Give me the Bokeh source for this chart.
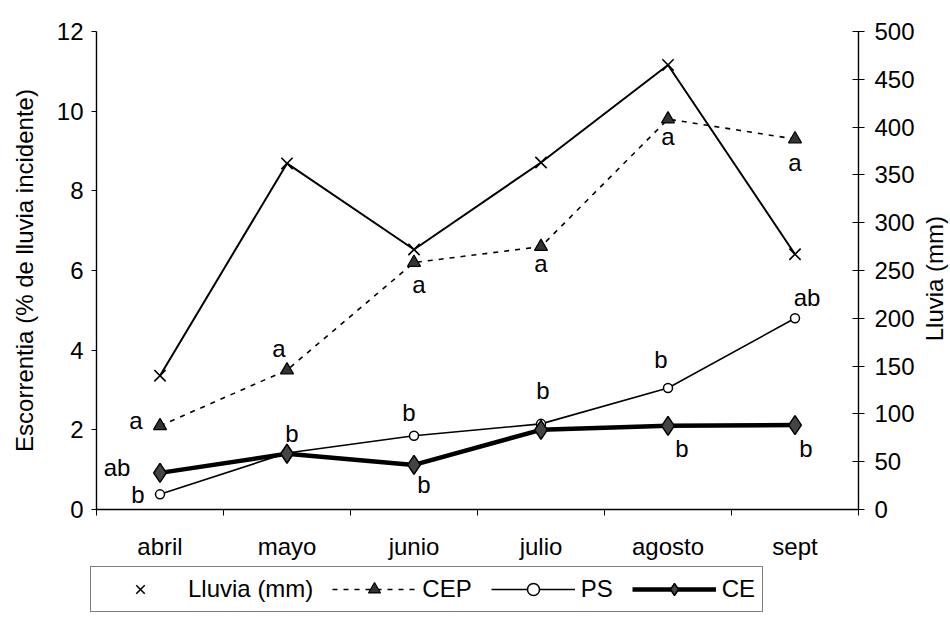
import math

from bokeh.core.properties import value
from bokeh.embed import file_html
from bokeh.layouts import column, row
from bokeh.models import (ColumnDataSource, FixedTicker, Label, Legend,
                          LegendItem, LinearAxis, Range1d)
from bokeh.plotting import figure
from bokeh.resources import INLINE

# ---- data -------------------------------------------------------------
months = ["abril", "mayo", "junio", "julio", "agosto", "sept"]
lluvia_mm = [140, 362, 272, 363, 465, 267]          # right axis (mm)
cep = [2.1, 3.5, 6.2, 6.6, 9.8, 9.3]                # % de lluvia incidente
ps = [0.38, 1.42, 1.85, 2.15, 3.05, 4.8]
ce = [0.92, 1.40, 1.12, 2.0, 2.1, 2.12]

cep_letters = ["a", "a", "a", "a", "a", "a"]
ps_letters = ["b", "b", "b", "b", "b", "ab"]
ce_letters = ["ab", "", "b", "", "b", "b"]

esc_ticks = [0, 2, 4, 6, 8, 10, 12]
lluvia_ticks = [0, 50, 100, 150, 200, 250, 300, 350, 400, 450, 500]

# ---- styling ----------------------------------------------------------
FONT = "Liberation Sans"
FS = "24px"
xpos = [i + 0.5 for i in range(len(months))]
bounds = list(range(len(months) + 1))

# series styles, shared by the chart and the legend strip
STYLE = {
    "lluvia_line": dict(line_color="black", line_width=2),
    "lluvia_pts": dict(marker="x", size=16, line_color="black", line_width=1.6),
    "cep_line": dict(line_color="black", line_width=1.6, line_dash="5 6"),
    "cep_pts": dict(marker="triangle", size=13, fill_color="#333333",
                    line_color="black", line_width=1.2),
    "ps_line": dict(line_color="black", line_width=1.6),
    "ps_pts": dict(marker="circle", size=9, fill_color="white",
                   line_color="black", line_width=1.5),
    "ce_line": dict(line_color="black", line_width=4.5),
    "ce_pts": dict(marker="diamond", size=19, fill_color="#444444",
                   line_color="black", line_width=1.5),
}

BORDER_TOP, BORDER_BOTTOM = 31, 56
MAIN_W, SIDE_W, TOP_H, LEG_H = 918, 32, 565, 55

p = figure(width=MAIN_W, height=TOP_H, output_backend="svg",
           toolbar_location=None,
           x_range=Range1d(0, len(months)), y_range=Range1d(0, 12),
           min_border_left=96, min_border_right=60,
           min_border_top=BORDER_TOP, min_border_bottom=BORDER_BOTTOM)
p.extra_y_ranges = {"lluvia": Range1d(0, 500)}
p.outline_line_color = None
p.grid.visible = False
p.background_fill_color = "white"
p.border_fill_color = "white"

# month axis: labels at category centres, small ticks at the boundaries
xa = p.xaxis[0]
xa.ticker = FixedTicker(ticks=xpos, minor_ticks=bounds)
xa.major_label_overrides = {x: m for x, m in zip(xpos, months)}
xa.major_tick_line_color = None
xa.major_tick_out = 0
xa.major_tick_in = 0
xa.minor_tick_out = 6
xa.minor_tick_in = 0
xa.minor_tick_line_color = "black"
xa.major_label_standoff = 17
xa.major_label_text_font = FONT
xa.major_label_text_font_size = FS
xa.major_label_text_color = "black"
xa.axis_line_color = "black"
xa.axis_line_width = 1.4

# left axis: runoff
ya = p.yaxis[0]
ya.ticker = FixedTicker(ticks=esc_ticks)
ya.axis_label = "Escorrentia (% de lluvia incidente)"
ya.axis_label_text_font = FONT
ya.axis_label_text_font_size = FS
ya.axis_label_text_font_style = "normal"
ya.axis_label_text_color = "black"
ya.axis_label_standoff = 16
ya.major_label_text_font = FONT
ya.major_label_text_font_size = FS
ya.major_label_text_color = "black"
ya.major_label_standoff = 8
ya.major_tick_out = 5
ya.major_tick_in = 0
ya.minor_tick_line_color = None
ya.axis_line_color = "black"
ya.axis_line_width = 1.4

# right axis: rainfall (its title sits in the narrow strip beside it)
ra = LinearAxis(y_range_name="lluvia", ticker=FixedTicker(ticks=lluvia_ticks))
ra.major_label_text_font = FONT
ra.major_label_text_font_size = FS
ra.major_label_text_color = "black"
ra.major_label_standoff = 10
ra.major_tick_out = 6
ra.major_tick_in = 6
ra.minor_tick_line_color = None
ra.axis_line_color = "black"
ra.axis_line_width = 1.4
p.add_layout(ra, "right")

# ---- series -------------------------------------------------------------
p.line(xpos, lluvia_mm, y_range_name="lluvia", **STYLE["lluvia_line"])
p.scatter(xpos, lluvia_mm, y_range_name="lluvia", **STYLE["lluvia_pts"])
p.line(xpos, cep, **STYLE["cep_line"])
p.scatter(xpos, cep, **STYLE["cep_pts"])
p.line(xpos, ps, **STYLE["ps_line"])
p.scatter(xpos, ps, **STYLE["ps_pts"])
p.line(xpos, ce, **STYLE["ce_line"])
p.scatter(xpos, ce, **STYLE["ce_pts"])

# ---- significance letters ---------------------------------------------
letter_offsets = {
    "cep": [(-24, -5), (-8, -22), (5, 22), (0, 17), (0, 17), (0, 23)],
    "ps": [(-22, 0), (5, -19), (-5, -23), (2, -33), (-7, -29), (12, -21)],
    "ce": [(-43, -5), (0, 0), (10, 20), (0, 0), (14, 23), (11, 23)],
}
for key, vals, letters in (("cep", cep, cep_letters),
                           ("ps", ps, ps_letters),
                           ("ce", ce, ce_letters)):
    offs = letter_offsets[key]
    src = ColumnDataSource(dict(x=xpos, y=vals, t=letters,
                                dx=[o[0] for o in offs],
                                dy=[o[1] for o in offs]))
    p.text(x="x", y="y", text="t", source=src, x_offset="dx", y_offset="dy",
           text_align="center", text_baseline="middle",
           text_font=value(FONT), text_font_size=value(FS),
           text_color="black")

# ---- right-hand title strip (reads bottom to top) ----------------------
side = figure(width=SIDE_W, height=TOP_H, output_backend="svg",
              toolbar_location=None,
              x_range=Range1d(0, 1), y_range=Range1d(0, 1),
              x_axis_type=None, y_axis_type=None,
              min_border_left=0, min_border_right=0,
              min_border_top=BORDER_TOP, min_border_bottom=BORDER_BOTTOM)
side.outline_line_color = None
side.grid.visible = False
side.background_fill_color = "white"
side.border_fill_color = "white"
side.add_layout(Label(x=0.5, y=0.483, angle=math.pi / 2, text="Lluvia (mm)",
                      text_align="center", text_baseline="middle",
                      text_font=FONT, text_font_size=FS, text_color="black"))

# ---- legend strip under the chart --------------------------------------
# The series are repeated here on a range that keeps them out of view, so
# the legend can draw their glyphs without showing the data twice.
leg = figure(width=MAIN_W + SIDE_W, height=LEG_H, output_backend="svg",
             toolbar_location=None,
             x_range=Range1d(100, 101), y_range=Range1d(100, 101),
             x_axis_type=None, y_axis_type=None,
             min_border_left=0, min_border_right=0, min_border_top=0,
             min_border_bottom=0)
leg.outline_line_color = None
leg.grid.visible = False
leg.background_fill_color = "white"
leg.border_fill_color = "white"

k_ll = leg.scatter(xpos, lluvia_mm, **STYLE["lluvia_pts"])
k_cep_l = leg.line(xpos, cep, **STYLE["cep_line"])
k_cep_p = leg.scatter(xpos, cep, **STYLE["cep_pts"])
k_ps_l = leg.line(xpos, ps, **STYLE["ps_line"])
k_ps_p = leg.scatter(xpos, ps, **STYLE["ps_pts"])
k_ce_l = leg.line(xpos, ce, **STYLE["ce_line"])
k_ce_p = leg.scatter(xpos, ce, **STYLE["ce_pts"])

legend = Legend(items=[
    LegendItem(label="Lluvia (mm)", renderers=[k_ll]),
    LegendItem(label="CEP", renderers=[k_cep_l, k_cep_p]),
    LegendItem(label="PS", renderers=[k_ps_l, k_ps_p]),
    LegendItem(label="CE", renderers=[k_ce_l, k_ce_p]),
], orientation="horizontal", location=(90, 8),
    glyph_width=84, glyph_height=30, label_height=24, label_standoff=6,
    spacing=19, padding=7, margin=0,
    border_line_color="black", border_line_width=1,
    label_text_font=FONT, label_text_font_size=FS, label_text_color="black",
    background_fill_color="white")
leg.add_layout(legend)

layout = column(row(p, side, spacing=0), leg, spacing=0)
open("out.html", "w").write(file_html(layout, INLINE))
